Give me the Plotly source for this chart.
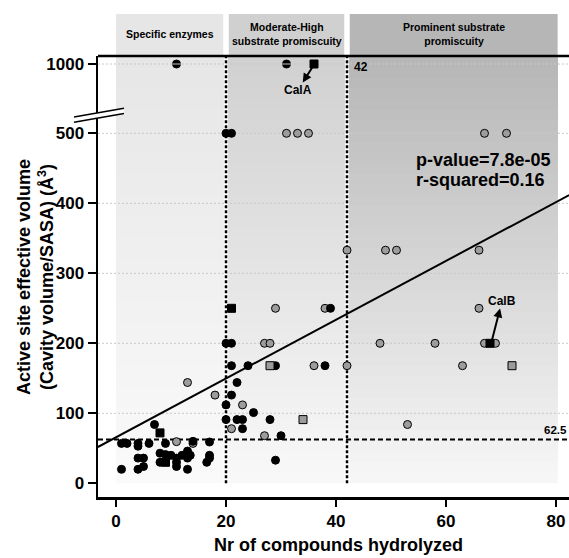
import plotly.graph_objects as go

# ---------------- data ----------------
black_x = [1, 2, 4, 4, 6, 9, 14, 17,
           1, 4, 4, 5, 5, 8, 9, 10, 13, 13.5, 8, 11, 11, 13, 11, 13, 17, 17, 16.5, 12,
           29, 7, 20, 22, 23, 28, 23, 30, 20, 25, 21, 22, 21, 24, 29, 38, 20, 21, 39,
           20, 21, 11, 31]
black_y = [57, 57, 57, 53, 57, 57, 60, 59,
           20, 20, 36, 36, 24, 43, 41, 40, 46, 40, 30, 30, 36, 36, 24, 20, 40, 36, 30, 40,
           33, 84, 91, 91, 91, 91, 78, 68, 112, 101, 126, 144, 168, 168, 168, 168, 200, 200, 250,
           500, 500, 1000, 1000]

grey_x = [11, 14, 13, 18, 21, 23, 27, 27, 28, 29, 38, 36, 42, 42, 49, 51, 66, 66,
          48, 58, 67, 69, 63, 53, 31, 33, 35, 67, 71]
grey_y = [59.5, 57, 144, 126, 78, 112, 68, 200, 200, 250, 250, 168, 168, 333, 333, 333, 333, 250,
          200, 200, 200, 200, 168, 84, 500, 500, 500, 500, 500]

bsq_x = [36, 21, 8, 68, 9]
bsq_y = [1000, 250, 72, 200, 30]

gsq_x = [28, 34, 72]
gsq_y = [168, 91, 168]

reg_x = [-3.3, 82.4]
reg_y = [51.8, 411.8]

x_ticks = [0, 20, 40, 60, 80]
y_ticks_low = [0, 100, 200, 300, 400, 500]
y_ticks_high = [1000]

region_labels = ["Specific enzymes", "Moderate-High<br>substrate promiscuity",
                 "Prominent substrate<br>promiscuity"]
region_bounds = [(0, 19.5), (20.5, 41.5), (42.5, 80.3)]
region_top_grey = [230, 208, 182]
region_bot_grey = [250, 249, 247]

BREAK = 900

# ------------- geometry (page pixels) -------------
PAGE_W, PAGE_H = 569, 558
PLOT_L, PLOT_R, PLOT_T, PLOT_B = 98, 569, 56, 497
W, H = PAGE_W, PAGE_H
L, R, T, B = PLOT_L, PAGE_W - PLOT_R, PLOT_T, PAGE_H - PLOT_B
PW, PH = PLOT_R - PLOT_L, PLOT_B - PLOT_T
X0PX, XSCALE = 116.0, 5.5   # page pixel of x=0, px per unit
Y0PX, YSCALE = 483.3, 0.7   # page pixel of y=0, px per unit


def ppx(px):
    return (px - PLOT_L) / PW


def ppy(py):
    return (PLOT_B - py) / PH


def dx(v):
    return ppx(X0PX + XSCALE * v)


FONT = "Liberation Sans, Arial, sans-serif"


def split(xs, ys):
    lo = [(a, b) for a, b in zip(xs, ys) if b < BREAK]
    hi = [(a, b) for a, b in zip(xs, ys) if b >= BREAK]
    return lo, hi


fig = go.Figure()


def add_pts(xs, ys, symbol, fill, name):
    lo, hi = split(xs, ys)
    for pts, ya in ((lo, "y"), (hi, "y2")):
        if not pts:
            continue
        fig.add_trace(go.Scatter(
            x=[p[0] for p in pts], y=[p[1] for p in pts], yaxis=ya, mode="markers",
            marker=dict(symbol=symbol, size=8, color=fill, line=dict(color="black", width=1)),
            name=name, showlegend=False, cliponaxis=False))
        if ya == "y2" and symbol == "circle":
            fig.add_trace(go.Scatter(
                x=[p[0] for p in pts], y=[p[1] for p in pts], yaxis=ya, mode="markers",
                marker=dict(symbol="line-ew", size=7, line=dict(color="#c8c8c8", width=1)),
                showlegend=False, hoverinfo="skip"))


fig.add_trace(go.Scatter(x=reg_x, y=reg_y, mode="lines", line=dict(color="black", width=2),
                         showlegend=False))
add_pts(grey_x, grey_y, "circle", "#9c9c9c", "grey")
add_pts(black_x, black_y, "circle", "black", "black")
add_pts(gsq_x, gsq_y, "square", "#9c9c9c", "grey sq")
add_pts(bsq_x, bsq_y, "square", "black", "black sq")

shapes = []
# background panels with vertical gradient
ybot = ppy(Y0PX)
N = 40
for (x0, x1), ct, cb in zip(region_bounds, region_top_grey, region_bot_grey):
    shapes.append(dict(type="rect", xref="paper", yref="paper", x0=dx(x0), x1=dx(x1),
                       y0=1.0, y1=ppy(14), fillcolor=f"rgb({ct},{ct},{ct})",
                       line=dict(width=0), layer="below"))
    for k in range(N):
        y0 = ybot + (1.0 - ybot) * k / N
        t = (k + 0.5) / N
        v = int(round(cb + (ct - cb) * t))
        shapes.append(dict(type="rect", xref="paper", yref="paper", x0=dx(x0), x1=dx(x1),
                           y0=y0, y1=1.0, fillcolor=f"rgb({v},{v},{v})",
                           line=dict(width=0), layer="below"))

# gridlines
GRID = "#c8c8c8"
for v in [100, 200, 300, 400, 500]:
    shapes.append(dict(type="line", xref="paper", yref="y", x0=0, x1=1, y0=v, y1=v,
                       line=dict(color=GRID, width=1, dash="2px,2px"), layer="below"))
shapes.append(dict(type="line", xref="paper", yref="y2", x0=0, x1=1, y0=1000, y1=1000,
                   line=dict(color=GRID, width=1, dash="2px,2px"), layer="below"))

# vertical dotted separators
for v in [20, 42]:
    shapes.append(dict(type="line", xref="paper", yref="paper", x0=dx(v), x1=dx(v),
                       y0=ybot, y1=1.0, line=dict(color="black", width=2.5, dash="3px,2px"),
                       layer="between"))
# horizontal threshold
shapes.append(dict(type="line", xref="paper", yref="y", x0=0, x1=1, y0=62.5, y1=62.5,
                   line=dict(color="black", width=2, dash="5px,3px"), layer="between"))
# top frame line
shapes.append(dict(type="line", xref="paper", yref="paper", x0=0, x1=1, y0=1, y1=1,
                   line=dict(color="black", width=2.5), layer="above"))
# axis break
ux0, uy0, ux1, uy1 = 74, 117, 124, 108.3
lx0, ly0, lx1, ly1 = 74, 122.2, 124, 113.5
path = (f"M {ppx(ux0)},{ppy(uy0)} L {ppx(ux1)},{ppy(uy1)} "
        f"L {ppx(lx1)},{ppy(ly1)} L {ppx(lx0)},{ppy(ly0)} Z")
shapes.append(dict(type="path", xref="paper", yref="paper", path=path,
                   fillcolor="white", line=dict(width=0), layer="above"))
for a, b, c, d in [(ux0, uy0, ux1, uy1), (lx0, ly0, lx1, ly1)]:
    shapes.append(dict(type="line", xref="paper", yref="paper", x0=ppx(a), y0=ppy(b),
                       x1=ppx(c), y1=ppy(d), line=dict(color="black", width=1.5),
                       layer="above"))

ann = []
# header labels
for (x0, x1), lab in zip(region_bounds, region_labels):
    ann.append(dict(text=lab, xref="paper", yref="paper", x=dx((x0 + x1) / 2), y=ppy(34),
                    showarrow=False, xanchor="center", yanchor="middle",
                    font=dict(family=FONT, size=10.5, color="black", weight="bold")))
ann.append(dict(text="p-value=7.8e-05", xref="paper", yref="paper", x=ppx(414), y=ppy(159.5),
                xanchor="left", yanchor="middle", showarrow=False,
                font=dict(family=FONT, size=18, color="black", weight="bold")))
ann.append(dict(text="r-squared=0.16", xref="paper", yref="paper", x=ppx(414), y=ppy(179.5),
                xanchor="left", yanchor="middle", showarrow=False,
                font=dict(family=FONT, size=18, color="black", weight="bold")))
ann.append(dict(text="42", xref="paper", yref="paper", x=ppx(352), y=ppy(67.5),
                xanchor="left", yanchor="middle", showarrow=False,
                font=dict(family=FONT, size=12, color="black", weight="bold")))
ann.append(dict(text="62.5", xref="paper", yref="paper", x=1.0, y=ppy(430),
                xanchor="right", yanchor="middle", showarrow=False,
                font=dict(family=FONT, size=11.5, color="black", weight="bold")))
# labelled arrows: tail at the enzyme marker, arrowhead at the label
lab_font = dict(family=FONT, size=12, color="black", weight="bold")
ann.append(dict(text="CalA", xref="paper", yref="paper", x=ppx(312.5), y=ppy(67),
                ax=298 - 312.5, ay=90 - 67, showarrow=True, arrowside="start",
                startarrowhead=2, startarrowsize=0.9, arrowwidth=2, arrowcolor="black",
                standoff=0, startstandoff=0, borderpad=0, font=lab_font))
ann.append(dict(text="CalB", xref="paper", yref="paper", x=ppx(491.5), y=ppy(342),
                ax=502 - 491.5, ay=301 - 342, showarrow=True, arrowside="start",
                startarrowhead=2, startarrowsize=0.9, arrowwidth=2, arrowcolor="black",
                standoff=0, startstandoff=0, borderpad=0, font=lab_font))
# axis titles
ann.append(dict(text="Active site effective volume<br>(Cavity volume/SASA) (Å<sup>3</sup>)",
                xref="paper", yref="paper", x=ppx(35), y=ppy(277), textangle=-90,
                xanchor="center", yanchor="middle", showarrow=False,
                font=dict(family=FONT, size=18, color="black", weight="bold")))
ann.append(dict(text="Nr of compounds hydrolyzed", xref="paper", yref="paper",
                x=ppx(338), y=ppy(545), xanchor="center", yanchor="middle", showarrow=False,
                font=dict(family=FONT, size=18, color="black", weight="bold")))

BREAK_PX = 113
d_break = ppy(BREAK_PX)
y_low_bottom = (Y0PX - PLOT_B) / YSCALE
y_low_top = (Y0PX - BREAK_PX) / YSCALE
y_hi_top = 1000 + (64 - PLOT_T) / YSCALE
y_hi_bottom = 1000 - (BREAK_PX - 64) / YSCALE
x_left = (PLOT_L - X0PX) / XSCALE
x_right = (PLOT_R - X0PX) / XSCALE

tickfont = dict(family=FONT, size=17, color="black", weight="bold")
fig.update_layout(
    width=W, height=H, margin=dict(l=L, r=R, t=T, b=B, pad=0),
    paper_bgcolor="white", plot_bgcolor="white",
    showlegend=False, hovermode=False,
    xaxis=dict(range=[x_left, x_right], tickvals=x_ticks, showgrid=False, zeroline=False,
               showline=True, linecolor="black", linewidth=2.5, ticks="outside",
               ticklen=7, tickwidth=2, tickcolor="black", tickfont=tickfont, anchor="y"),
    yaxis=dict(domain=[0, d_break], range=[y_low_bottom, y_low_top], tickvals=y_ticks_low,
               showgrid=False, zeroline=False, showline=True, linecolor="black",
               linewidth=2.5, ticks="outside", ticklen=8, tickwidth=2, tickcolor="black",
               tickfont=tickfont, anchor="x"),
    yaxis2=dict(domain=[d_break, 1], range=[y_hi_bottom, y_hi_top], tickvals=y_ticks_high,
                showgrid=False, zeroline=False, showline=True, linecolor="black",
                linewidth=2.5, ticks="outside", ticklen=8, tickwidth=2, tickcolor="black",
                tickfont=tickfont, anchor="x"),
    shapes=shapes, annotations=ann,
)

# remove the default 8px page margin so the figure sits at the window origin
fig.write_html("out.html",
               config={"displayModeBar": False, "staticPlot": True},
               post_script="document.body.style.margin='0px';"
                           "document.body.style.overflow='hidden';")
